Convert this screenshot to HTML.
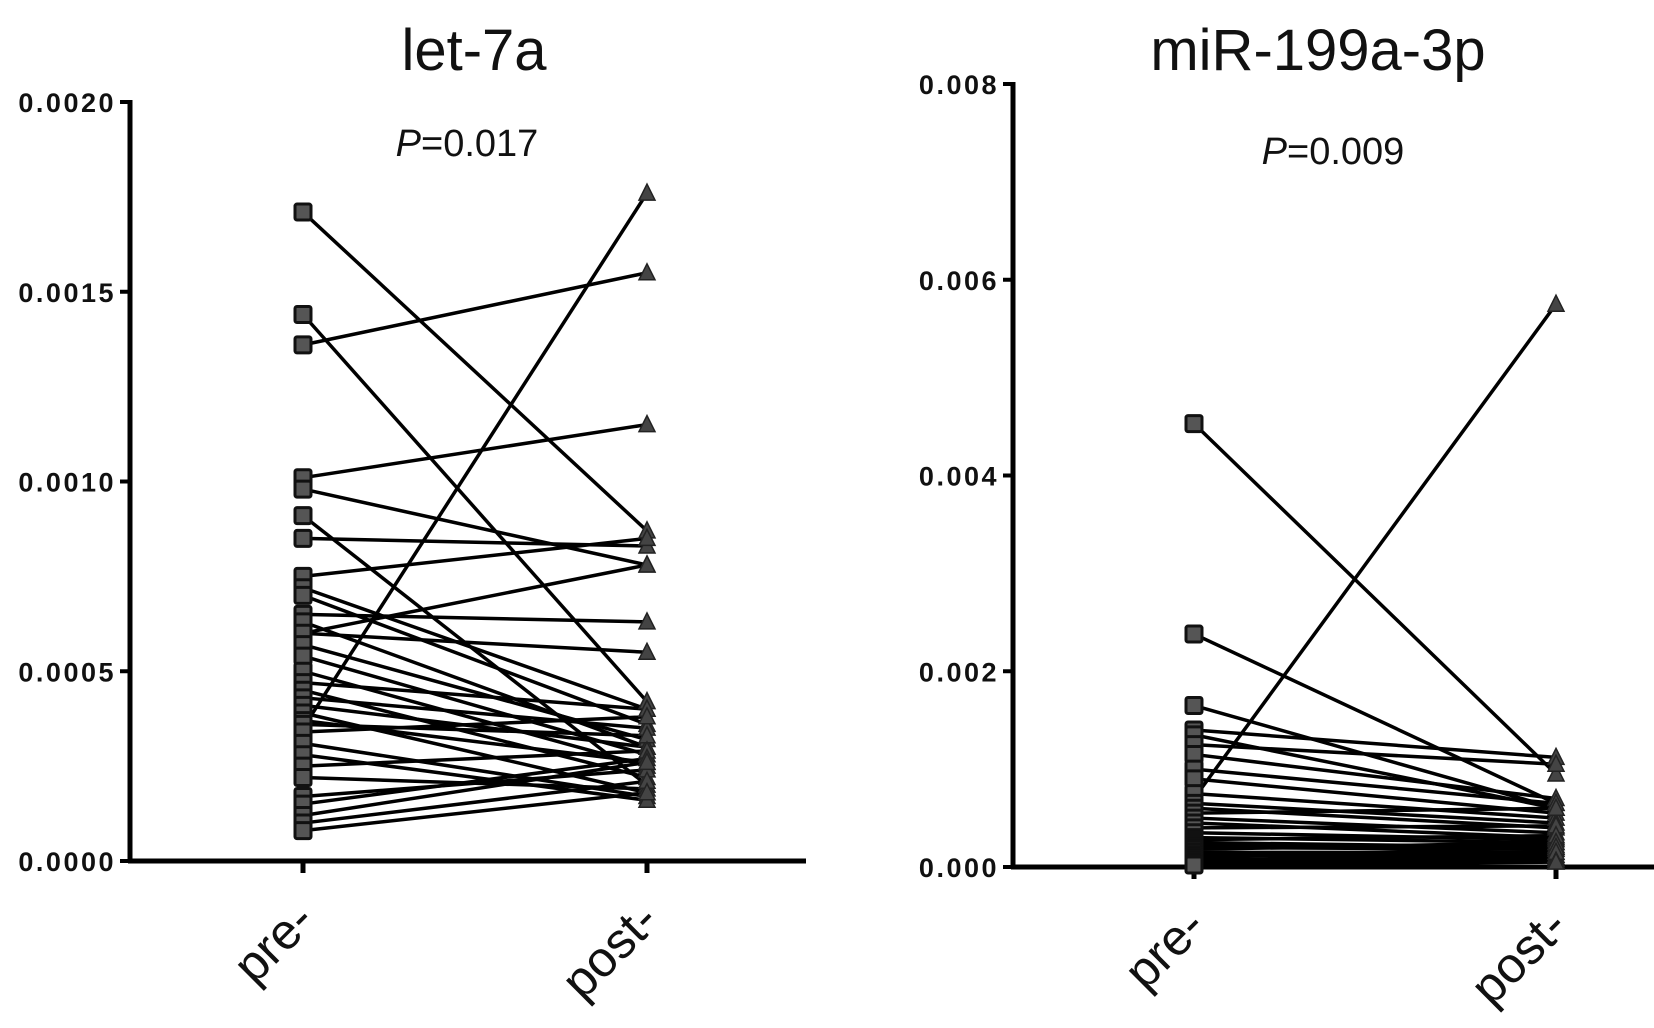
<!DOCTYPE html>
<html><head><meta charset="utf-8">
<style>
html,body{margin:0;padding:0;background:#fff;}
svg{display:block;font-family:"Liberation Sans",Arial,sans-serif;}
</style></head>
<body>
<svg id="chart" width="1654" height="1028" viewBox="0 0 1654 1028"></svg>
<script>
// let-7a data
const let7aCategories = ["pre-", "post-"];
const let7aTicks = ["0.0000","0.0005","0.0010","0.0015","0.0020"];
const let7aTickValues = [0, 0.0005, 0.0010, 0.0015, 0.0020];
const let7aPre = [0.00171,0.00144,0.00136,0.00101,0.00098,0.00091,0.00085,0.00075,0.00035,0.00060,0.00072,0.00070,0.00065,0.00063,0.00060,0.00057,0.00054,0.00050,0.00047,0.00045,0.00043,0.00041,0.00039,0.00037,0.00036,0.00034,0.00031,0.00028,0.00025,0.00022,0.00017,0.00015,0.00012,0.00010,0.00008];
const let7aPost = [0.00087,0.00042,0.00155,0.00115,0.00078,0.00020,0.00083,0.00085,0.00176,0.00078,0.00040,0.00036,0.00063,0.00030,0.00055,0.00032,0.00028,0.00025,0.00040,0.00022,0.00035,0.00030,0.00018,0.00026,0.00033,0.00038,0.00017,0.00016,0.00029,0.00019,0.00024,0.00027,0.00026,0.00021,0.00018];
// miR-199a-3p data
const mirCategories = ["pre-", "post-"];
const mirTicks = ["0.000","0.002","0.004","0.006","0.008"];
const mirTickValues = [0, 0.002, 0.004, 0.006, 0.008];
const mirPre = [0.00453,0.00238,0.00165,0.00140,0.00135,0.00070,0.00125,0.00115,0.00100,0.00090,0.00075,0.00065,0.00060,0.00055,0.00050,0.00045,0.00040,0.00035,0.00030,0.00028,0.00025,0.00022,0.00020,0.00018,0.00015,0.00012,0.00010,0.00008,0.00006,0.00004,0.00003,0.00002];
const mirPost = [0.00095,0.00065,0.00060,0.00112,0.00060,0.00575,0.00105,0.00070,0.00065,0.00055,0.00050,0.00045,0.00040,0.00060,0.00035,0.00030,0.00042,0.00028,0.00025,0.00032,0.00020,0.00022,0.00018,0.00025,0.00015,0.00012,0.00020,0.00010,0.00008,0.00015,0.00006,0.00005];

const NS = "http://www.w3.org/2000/svg";
const svg = document.getElementById("chart");
function mk(tag, attrs, parent){
  const e = document.createElementNS(NS, tag);
  for (const k in attrs) e.setAttribute(k, attrs[k]);
  (parent||svg).appendChild(e);
  return e;
}
function drawChart(cfg){
  const g = mk("g", {});
  
  
  const yS = v => cfg.y0 + (cfg.y1 - cfg.y0) * (v / cfg.max);
  const xS = i => cfg.xs[i];
  const t = mk("text", {x: cfg.titleX, y: 70, "font-size": 58, "text-anchor": "middle", fill: "#111"}, g);
  t.textContent = cfg.title;
  
  
  const p = mk("text", {x: cfg.pX, y: cfg.pY, "font-size": 38, "text-anchor": "middle", fill: "#111"}, g);
  p.innerHTML = '<tspan font-style="italic">P</tspan>=' + cfg.pval;
  
  
  const ya = mk("line", {x1: cfg.ax, y1: cfg.y1 - 2, x2: cfg.ax, y2: cfg.y0 + 2, stroke: "#000", "stroke-width": 5}, g);
  
  
  cfg.tickVals.forEach((v, i) => {
    mk("line", {x1: cfg.ax - 10, y1: yS(v), x2: cfg.ax, y2: yS(v), stroke: "#000", "stroke-width": 4}, g);
    const tl = mk("text", {x: cfg.ax - 14, y: yS(v) + 10, "font-size": 27, "font-weight": "bold", "text-anchor": "end", fill: "#111", "letter-spacing": "2.5"}, g);
    tl.textContent = cfg.ticks[i];
    
    
  });
  const xa = mk("line", {x1: cfg.ax - 2, y1: cfg.y0, x2: cfg.xEnd, y2: cfg.y0, stroke: "#000", "stroke-width": 5}, g);
  
  
  cfg.cats.forEach((c, i) => {
    mk("line", {x1: xS(i), y1: cfg.y0, x2: xS(i), y2: cfg.y0 + 12, stroke: "#000", "stroke-width": 5}, g);
    const lx = xS(i) + 14, ly = cfg.y0 + 62;
    const cl = mk("text", {x: lx, y: ly, "font-size": 50, "text-anchor": "end", fill: "#111", transform: `rotate(-45 ${lx} ${ly})`}, g);
    cl.textContent = c;
    
    
  });
  cfg.pre.forEach((v, i) => {
    const l = mk("line", {x1: xS(0), y1: yS(v), x2: xS(1), y2: yS(cfg.post[i]), stroke: "#000", "stroke-width": 3.5}, g);
    
    
  });
  cfg.pre.forEach(v => {
    const y = yS(v);
    const s = mk("rect", {x: xS(0) - 8, y: y - 8, width: 16, height: 16, fill: "#555", stroke: "#111", "stroke-width": 3, rx: 2}, g);
    
    
  });
  cfg.post.forEach(v => {
    const y = yS(v), x = xS(1);
    const tr = mk("polygon", {points: `${x},${y-9} ${x+8},${y+7} ${x-8},${y+7}`, fill: "#444", stroke: "#222", "stroke-width": 1.5}, g);
    
    
  });
}
drawChart({name: "let-7a-chart", title: "let-7a", pval: "0.017", titleX: 474, pX: 467, pY: 156,
  ax: 130, y0: 861, y1: 102, max: 0.002, xEnd: 806, xs: [303, 647],
  ticks: let7aTicks, tickVals: let7aTickValues, cats: let7aCategories, pre: let7aPre, post: let7aPost});
drawChart({name: "mir-199a-3p-chart", title: "miR-199a-3p", pval: "0.009", titleX: 1318, pX: 1333, pY: 164,
  ax: 1013, y0: 867, y1: 84, max: 0.008, xEnd: 1654, xs: [1194, 1556],
  ticks: mirTicks, tickVals: mirTickValues, cats: mirCategories, pre: mirPre, post: mirPost});
</script>
</body></html>
